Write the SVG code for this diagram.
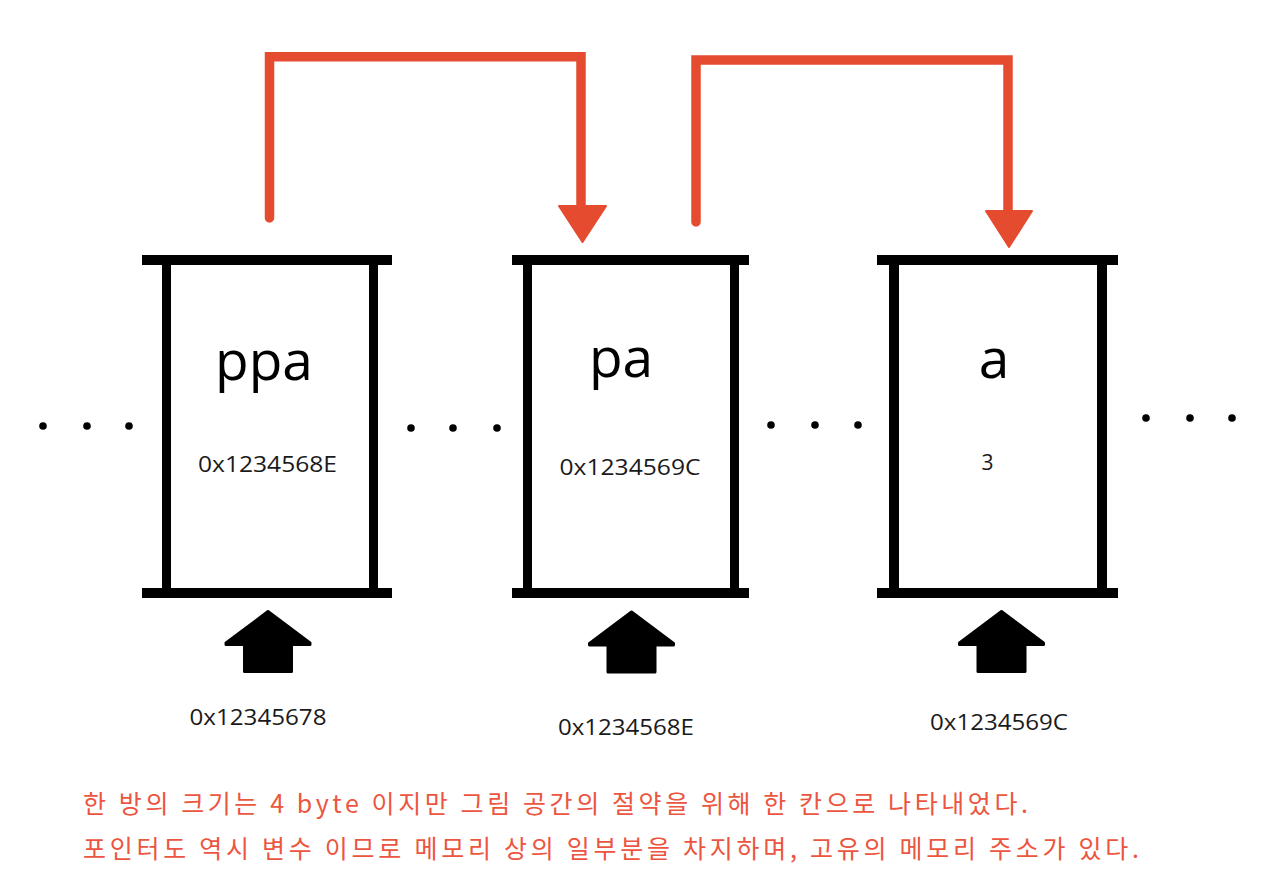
<svg xmlns="http://www.w3.org/2000/svg" width="1266" height="892" viewBox="0 0 1266 892">
<style>
.bar{fill:#000}
.name{font-family:"Open Sans","Noto Sans",sans-serif;font-size:55px;fill:#000;text-anchor:middle}
.val{font-family:"Open Sans","Noto Sans",sans-serif;font-size:21px;fill:#1a1a1a;text-anchor:middle}
.addr{font-family:"Open Sans","Noto Sans",sans-serif;font-size:21px;fill:#1a1a1a;text-anchor:middle}
.link{fill:none;stroke:#E54B2F;stroke-width:9.5;stroke-linejoin:miter;stroke-linecap:round}
.head{fill:#E54B2F;stroke:#E54B2F;stroke-width:2;stroke-linejoin:round}
.up{fill:#000;stroke:#000;stroke-width:3;stroke-linejoin:round}
.dot{fill:#000}
.note{font-family:"Noto Sans CJK KR","Liberation Sans",sans-serif;font-size:25px;fill:#EC5540}
</style>
<defs>
<path id="uparrow" class="up" d="M0,1.5 L42,33 L42,34.5 L23.5,34.5 L23.5,61.5 L-23.5,61.5 L-23.5,34.5 L-42,34.5 L-42,33 Z"/>
</defs>
<rect width="1266" height="892" fill="#fff"/>

<g id="dots">
<circle class="dot" cx="43" cy="426" r="3.8"/><circle class="dot" cx="87" cy="426" r="3.8"/><circle class="dot" cx="129" cy="426" r="3.8"/>
<circle class="dot" cx="411" cy="428" r="3.8"/><circle class="dot" cx="453" cy="428" r="3.8"/><circle class="dot" cx="497" cy="428" r="3.8"/>
<circle class="dot" cx="771" cy="425" r="3.8"/><circle class="dot" cx="815" cy="425" r="3.8"/><circle class="dot" cx="858" cy="425" r="3.8"/>
<circle class="dot" cx="1146" cy="418" r="3.8"/><circle class="dot" cx="1190" cy="418" r="3.8"/><circle class="dot" cx="1232" cy="418" r="3.8"/>
</g>

<g id="box-ppa">
<rect class="bar" x="142" y="255" width="250" height="10"/>
<rect class="bar" x="142" y="588" width="250" height="10"/>
<rect class="bar" x="162" y="260" width="9" height="333"/>
<rect class="bar" x="369" y="260" width="9" height="333"/>
<text class="name" x="264" y="380">ppa</text>
<text class="val" x="267.5" y="472" textLength="139" lengthAdjust="spacingAndGlyphs">0x1234568E</text>
</g>

<g id="box-pa">
<rect class="bar" x="512" y="255" width="237" height="10"/>
<rect class="bar" x="512" y="588" width="237" height="10"/>
<rect class="bar" x="523" y="260" width="9" height="333"/>
<rect class="bar" x="730" y="260" width="9" height="333"/>
<text class="name" x="621" y="377">pa</text>
<text class="val" x="630" y="475" textLength="141" lengthAdjust="spacingAndGlyphs">0x1234569C</text>
</g>

<g id="box-a">
<rect class="bar" x="877" y="255" width="241" height="10"/>
<rect class="bar" x="877" y="588" width="241" height="10"/>
<rect class="bar" x="889" y="260" width="10" height="333"/>
<rect class="bar" x="1097" y="260" width="10" height="333"/>
<text class="name" x="994" y="378">a</text>
<text class="val" x="987.5" y="470">3</text>
</g>

<g id="addr-ppa">
<use href="#uparrow" x="268" y="610"/>
<text class="addr" x="258" y="725" textLength="137" lengthAdjust="spacingAndGlyphs">0x12345678</text>
</g>
<g id="addr-pa">
<use href="#uparrow" x="631.5" y="610.5"/>
<text class="addr" x="626" y="735" textLength="136" lengthAdjust="spacingAndGlyphs">0x1234568E</text>
</g>
<g id="addr-a">
<use href="#uparrow" x="1001.5" y="610"/>
<text class="addr" x="999" y="730" textLength="138" lengthAdjust="spacingAndGlyphs">0x1234569C</text>
</g>

<g id="connectors">
<path class="link" d="M269.5,218 V56.7 H581 V207"/>
<polygon class="head" points="559,206 606,206 582.5,242"/>
<path class="link" d="M696,222 V60 H1008 V212"/>
<polygon class="head" points="986,211 1032,211 1009,247"/>
</g>

<g id="notes">
<text class="note" x="83" y="813" textLength="945" lengthAdjust="spacing">한 방의 크기는 4 byte 이지만 그림 공간의 절약을 위해 한 칸으로 나타내었다.</text>
<text class="note" x="83" y="858" textLength="1056" lengthAdjust="spacing">포인터도 역시 변수 이므로 메모리 상의 일부분을 차지하며, 고유의 메모리 주소가 있다.</text>
</g>
</svg>
